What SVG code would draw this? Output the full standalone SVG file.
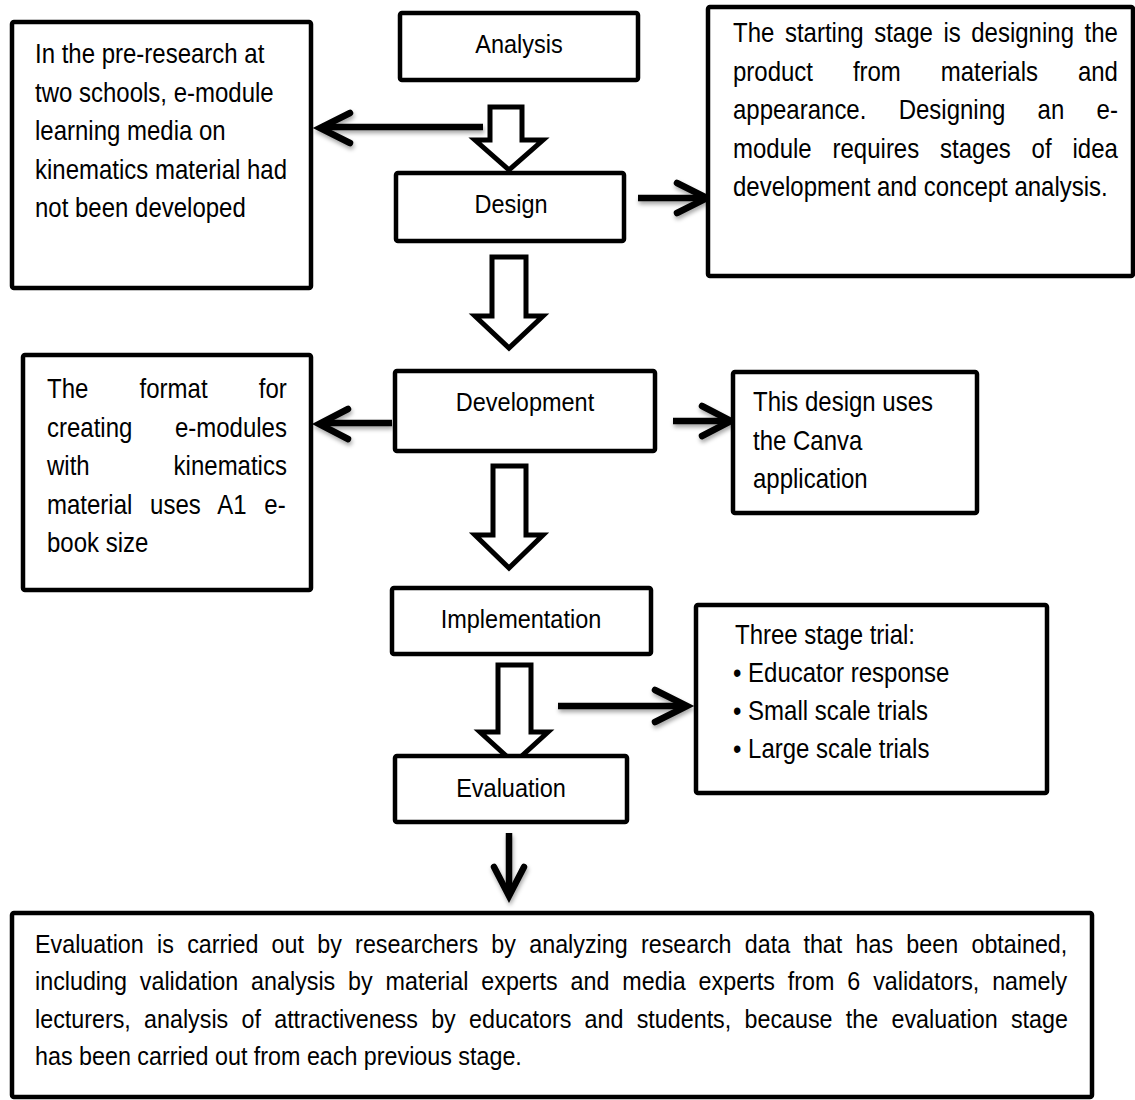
<svg xmlns="http://www.w3.org/2000/svg" width="1135" height="1100" viewBox="0 0 1135 1100">
<defs>
<style>
.box{fill:#fff;stroke:#000;stroke-width:4.5}
.hollow{fill:#fff;stroke:#000;stroke-width:5;stroke-linejoin:miter}
.shaft{fill:none;stroke:#000;stroke-width:6.5;stroke-linecap:butt}
.head{fill:none;stroke:#000;stroke-width:6.5;stroke-linecap:round;stroke-linejoin:miter}
.t{font-family:"Liberation Sans",Arial,sans-serif;font-size:24px;fill:#000}
.lbl{font-family:"Liberation Sans",Arial,sans-serif;font-size:23.5px;fill:#000;text-anchor:middle}
.b{font-family:"Liberation Sans",Arial,sans-serif;font-size:23.3px;fill:#000}
</style>
<filter id="sh" x="-20%" y="-40%" width="140%" height="180%">
<feDropShadow dx="1" dy="3" stdDeviation="2" flood-color="#000" flood-opacity="0.35"/>
</filter>
</defs>
<rect width="1135" height="1100" fill="#fff"/>

<g id="connectors">
<polygon class="hollow" points="490,107 522,107 522,140 543,140 509,170 475,140 490,140"/>
<polygon class="hollow" points="492,257 526,257 526,316 543,316 509,348 475,316 492,316"/>
<polygon class="hollow" points="493,466 526,466 526,535 543,535 509,568 475,535 493,535"/>
<polygon class="hollow" points="498,665 531,665 531,732 548,732 514,763 480,732 498,732"/>
<g filter="url(#sh)">
<line class="shaft" x1="483" y1="127" x2="322" y2="127"/>
<polyline class="head" points="350,113 320,128 350,143"/>
<line class="shaft" x1="638" y1="198" x2="705" y2="198"/>
<polyline class="head" points="677,183 707,198 677,213"/>
<line class="shaft" x1="392" y1="423" x2="322" y2="423"/>
<polyline class="head" points="348,409 319,424 348,439"/>
<line class="shaft" x1="673" y1="421" x2="730" y2="421"/>
<polyline class="head" points="702,406 731,421 702,436"/>
<line class="shaft" x1="558" y1="706" x2="685" y2="706"/>
<polyline class="head" points="655,690 687,706 655,722"/>
<line class="shaft" x1="509" y1="833" x2="509" y2="894"/>
<polyline class="head" points="494,867 509,896 524,867"/>
</g>
</g>

<g id="analysis">
<rect class="box" x="400" y="13" width="238" height="67" rx="2"/>
<text class="lbl" transform="translate(519,53) scale(1,1.1)">Analysis</text>
</g>
<g id="design">
<rect class="box" x="396" y="173" width="228" height="68" rx="2"/>
<text class="lbl" transform="translate(511,213) scale(1,1.1)">Design</text>
</g>
<g id="development">
<rect class="box" x="395" y="371" width="260" height="80" rx="2"/>
<text class="lbl" transform="translate(525,411) scale(1,1.1)">Development</text>
</g>
<g id="implementation">
<rect class="box" x="392" y="588" width="259" height="66" rx="2"/>
<text class="lbl" transform="translate(521,628) scale(1,1.1)">Implementation</text>
</g>
<g id="evaluation">
<rect class="box" x="395" y="756" width="232" height="66" rx="2"/>
<text class="lbl" transform="translate(511,797) scale(1,1.1)">Evaluation</text>
</g>

<g id="pre-research">
<rect class="box" x="12" y="22" width="299" height="266" rx="2"/>
<text class="t" transform="translate(35,63) scale(1,1.12)">
<tspan x="0" y="0">In the pre-research at</tspan>
<tspan x="0" dy="34.4">two schools, e-module</tspan>
<tspan x="0" dy="34.4">learning media on</tspan>
<tspan x="0" dy="34.4">kinematics material had</tspan>
<tspan x="0" dy="34.4">not been developed</tspan>
</text>
</g>

<g id="design-note">
<rect class="box" x="708" y="7" width="425" height="269" rx="2"/>
<text class="t" transform="translate(733,42) scale(1,1.12)">
<tspan x="0" y="0" style="word-spacing:3.9px">The starting stage is designing the</tspan>
<tspan x="0" dy="34.4" style="word-spacing:33.2px">product from materials and</tspan>
<tspan x="0" dy="34.4" style="word-spacing:25.6px">appearance. Designing an e-</tspan>
<tspan x="0" dy="34.4" style="word-spacing:14.2px">module requires stages of idea</tspan>
<tspan x="0" dy="34.4">development and concept analysis.</tspan>
</text>
</g>

<g id="format-note">
<rect class="box" x="23" y="355" width="288" height="235" rx="2"/>
<text class="t" transform="translate(47,398) scale(1,1.12)">
<tspan x="0" y="0" style="word-spacing:44.6px">The format for</tspan>
<tspan x="0" dy="34.4" style="word-spacing:35.9px">creating e-modules</tspan>
<tspan x="0" dy="34.4" style="word-spacing:77.3px">with kinematics</tspan>
<tspan x="0" dy="34.4" style="word-spacing:11.1px">material uses A1 e-</tspan>
<tspan x="0" dy="34.4">book size</tspan>
</text>
</g>

<g id="canva-note">
<rect class="box" x="733" y="372" width="244" height="141" rx="2"/>
<text class="t" transform="translate(753,411) scale(1,1.12)">
<tspan x="0" y="0">This design uses</tspan>
<tspan x="0" dy="34.4">the Canva</tspan>
<tspan x="0" dy="34.4">application</tspan>
</text>
</g>

<g id="trial-note">
<rect class="box" x="696" y="605" width="351" height="188" rx="2"/>
<text class="t" transform="translate(733,644) scale(1,1.12)">
<tspan x="2" y="0">Three stage trial:</tspan>
<tspan x="0" dy="33.9">• Educator response</tspan>
<tspan x="0" dy="33.9">• Small scale trials</tspan>
<tspan x="0" dy="33.9">• Large scale trials</tspan>
</text>
</g>

<g id="evaluation-note">
<rect class="box" x="12" y="913" width="1080" height="184" rx="2"/>
<text class="b" transform="translate(35,953) scale(1,1.1)">
<tspan x="0" y="0" style="word-spacing:6.8px">Evaluation is carried out by researchers by analyzing research data that has been obtained,</tspan>
<tspan x="0" dy="33.9" style="word-spacing:6.4px">including validation analysis by material experts and media experts from 6 validators, namely</tspan>
<tspan x="0" dy="33.9" style="word-spacing:6.8px">lecturers, analysis of attractiveness by educators and students, because the evaluation stage</tspan>
<tspan x="0" dy="33.9">has been carried out from each previous stage.</tspan>
</text>
</g>
</svg>
